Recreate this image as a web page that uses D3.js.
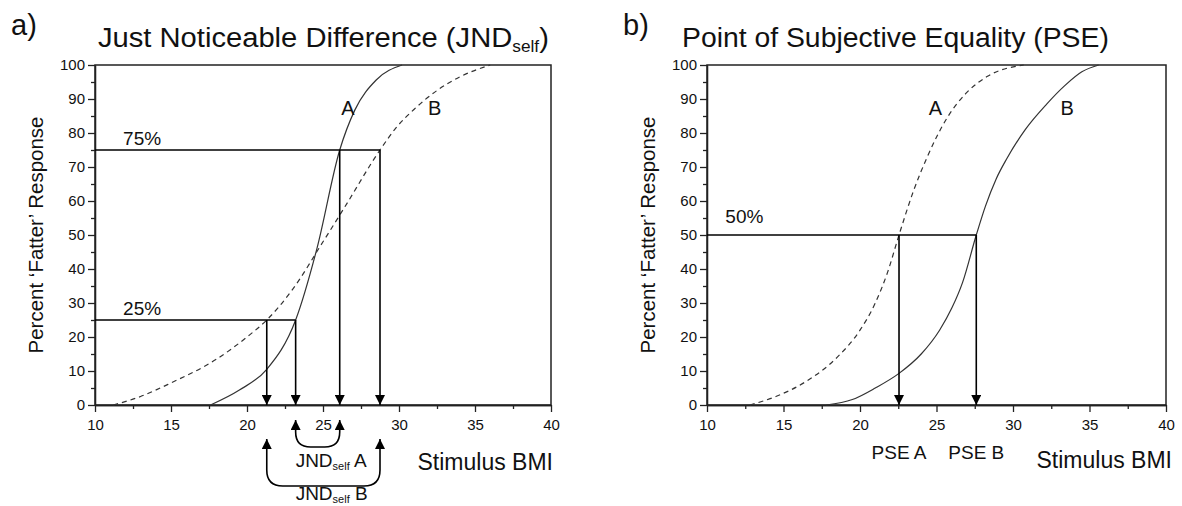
<!DOCTYPE html>
<html>
<head>
<meta charset="utf-8">
<script src="https://cdn.jsdelivr.net/npm/d3@7"></script>
<style>
body{margin:0;background:#fff;}
text{font-family:"Liberation Sans",Arial,sans-serif;fill:#111;}
</style>
</head>
<body>
<script>
//psychometric curves, [stimulus BMI, percent 'fatter']
var jndCurveA = [[17.6,0],[19.5,4.4],[21.3,10.5],[23.2,25],[24.6,46],[26.1,75],[27.1,86.8],[28.5,95.6],[30.2,100]];
var jndCurveB = [[11.2,0],[13,2.5],[15,6.5],[18,13.5],[20,20],[21.3,25],[23,34],[25,48],[26.4,58],[28.75,75],[29.8,81.5],[31,87],[32.5,92.5],[34,96.5],[36,100]];
var pseCurveA = [[12.8,0],[14.5,2.5],[16.5,7],[18.5,14],[20,22],[21,30],[21.8,39],[22.55,50],[23.5,63],[24.4,73],[25.7,84.5],[27,92],[28.3,96.6],[30.7,100]];
var pseCurveB = [[17.8,0],[19.5,1.6],[21,5],[22.55,9.3],[24,15],[25.2,22],[26,28.5],[26.7,36],[27.6,50],[28.2,58.5],[28.9,66.5],[29.6,72.5],[30.8,81],[32.2,88.5],[33.4,94],[34.5,98],[35.6,100]];

//threshold levels and where each curve crosses them
var jndLevels = [25, 75];
var jndPointsA = [23.2, 26.1];
var jndPointsB = [21.3, 28.75];
var pseLevel = 50;
var psePoints = [22.55, 27.6];

//axis ticks
var xTicks = [10, 15, 20, 25, 30, 35, 40];
var xMinor = [12.5, 17.5, 22.5, 27.5, 32.5, 37.5];
var yTicks = [0, 10, 20, 30, 40, 50, 60, 70, 80, 90, 100];
var yMinor = [5, 15, 25, 35, 45, 55, 65, 75, 85, 95];

window.onload = drawFigure();

function drawFigure(){
    var width = 1182,
        height = 506;

    var svg = d3.select("body")
        .append("svg")
        .attr("width", width)
        .attr("height", height);

    //arrow head used on every annotation arrow
    svg.append("defs").append("marker")
        .attr("id", "head")
        .attr("viewBox", "0 0 10 10")
        .attr("refX", 10)
        .attr("refY", 5)
        .attr("markerWidth", 10)
        .attr("markerHeight", 10)
        .attr("markerUnits", "userSpaceOnUse")
        .attr("orient", "auto-start-reverse")
        .append("path")
        .attr("d", "M0,0 L10,5 L0,10 z")
        .attr("fill", "#000");

    //panel a: A solid, B dashed
    var a = drawPanel(svg, 95, 551, "a)", jndCurveA, jndCurveB);
    a.g.append("text")
        .attr("transform", "translate(98,47) scale(1.08,1)")
        .attr("font-size", 27)
        .call(function(t){
            t.append("tspan").text("Just Noticeable Difference (JND");
            t.append("tspan").attr("font-size", 16).attr("dy", 5).text("self");
            t.append("tspan").attr("dy", -5).text(")");
        });

    //horizontal lines at 25% and 75%
    var levelEnds = [jndPointsA[0], jndPointsB[1]];
    jndLevels.forEach(function(lv, i){
        a.g.append("line")
            .attr("x1", a.x(10)).attr("x2", a.x(levelEnds[i]))
            .attr("y1", a.y(lv)).attr("y2", a.y(lv))
            .attr("stroke", "#000").attr("stroke-width", 1.6);
        a.g.append("text")
            .attr("x", a.x(11.85)).attr("y", a.y(lv) - 5)
            .attr("font-size", 19)
            .text(lv + "%");
    });

    //down arrows to the BMI axis
    var drops = [[jndPointsB[0], 25], [jndPointsA[0], 25], [jndPointsA[1], 75], [jndPointsB[1], 75]];
    drops.forEach(function(d){
        a.g.append("line")
            .attr("x1", a.x(d[0])).attr("x2", a.x(d[0]))
            .attr("y1", a.y(d[1])).attr("y2", a.y(0))
            .attr("stroke", "#000").attr("stroke-width", 1.6)
            .attr("marker-end", "url(#head)");
    });

    //curve labels
    a.g.append("text").attr("x", a.x(26.2)).attr("y", a.y(85.3)).attr("font-size", 20).text("A");
    a.g.append("text").attr("x", a.x(31.9)).attr("y", a.y(85.3)).attr("font-size", 20).text("B");

    //JND brackets under the axis
    bracket(a.g, a.x(jndPointsA[0]), a.x(jndPointsA[1]), 420, 447, 15);
    bracket(a.g, a.x(jndPointsB[0]), a.x(jndPointsB[1]), 439, 486, 16);
    jndLabel(a.g, a.x(jndPointsA[0]), 467, "A");
    jndLabel(a.g, a.x(jndPointsA[0]), 500, "B");

    a.g.append("text")
        .attr("x", a.x(40) + 2).attr("y", 470)
        .attr("text-anchor", "end")
        .attr("font-size", 23)
        .text("Stimulus BMI");

    //panel b: A dashed, B solid
    var b = drawPanel(svg, 707, 1166, "b)", pseCurveB, pseCurveA);
    b.g.append("text")
        .attr("transform", "translate(682,47) scale(1.05,1)")
        .attr("font-size", 27)
        .text("Point of Subjective Equality (PSE)");

    b.g.append("line")
        .attr("x1", b.x(10)).attr("x2", b.x(psePoints[1]))
        .attr("y1", b.y(pseLevel)).attr("y2", b.y(pseLevel))
        .attr("stroke", "#000").attr("stroke-width", 1.6);
    b.g.append("text")
        .attr("x", b.x(11.2)).attr("y", b.y(pseLevel) - 12)
        .attr("font-size", 19)
        .text(pseLevel + "%");

    var pseNames = ["PSE A", "PSE B"];
    psePoints.forEach(function(p, i){
        b.g.append("line")
            .attr("x1", b.x(p)).attr("x2", b.x(p))
            .attr("y1", b.y(pseLevel)).attr("y2", b.y(0))
            .attr("stroke", "#000").attr("stroke-width", 1.6)
            .attr("marker-end", "url(#head)");
        b.g.append("text")
            .attr("x", b.x(p)).attr("y", 459)
            .attr("text-anchor", "middle")
            .attr("font-size", 19)
            .text(pseNames[i]);
    });

    b.g.append("text").attr("x", b.x(24.5)).attr("y", b.y(85.3)).attr("font-size", 20).text("A");
    b.g.append("text").attr("x", b.x(33.1)).attr("y", b.y(85.3)).attr("font-size", 20).text("B");

    b.g.append("text")
        .attr("x", b.x(40) + 6).attr("y", 468)
        .attr("text-anchor", "end")
        .attr("font-size", 23)
        .text("Stimulus BMI");
};

//one panel: frame, axes and both curves
function drawPanel(svg, left, right, tag, solidCurve, dashedCurve){
    var g = svg.append("g");

    var x = d3.scaleLinear().domain([10, 40]).range([left, right]);
    var y = d3.scaleLinear().domain([0, 100]).range([405, 65]);

    //minor ticks
    g.append("g")
        .attr("transform", "translate(0,405)")
        .call(d3.axisBottom(x).tickValues(xMinor).tickSize(4).tickSizeOuter(0).tickFormat(""));
    g.append("g")
        .attr("transform", "translate(" + left + ",0)")
        .call(d3.axisLeft(y).tickValues(yMinor).tickSize(4).tickSizeOuter(0).tickFormat(""));

    //major ticks
    g.append("g")
        .attr("class", "xaxis")
        .attr("transform", "translate(0,405)")
        .call(d3.axisBottom(x).tickValues(xTicks).tickSize(7).tickPadding(7).tickSizeOuter(0));
    g.append("g")
        .attr("class", "yaxis")
        .attr("transform", "translate(" + left + ",0)")
        .call(d3.axisLeft(y).tickValues(yTicks).tickSize(7).tickPadding(3).tickSizeOuter(0));

    g.selectAll(".tick text").attr("font-size", 15).attr("font-family", "Liberation Sans, Arial, sans-serif").attr("fill", "#111");
    g.selectAll(".tick line, .domain").attr("stroke", "#222").attr("stroke-width", 1.3);

    //frame
    g.append("rect")
        .attr("x", left).attr("y", 65)
        .attr("width", right - left).attr("height", 340)
        .attr("fill", "none")
        .attr("stroke", "#222").attr("stroke-width", 1.5);

    var line = d3.line()
        .x(function(d){ return x(d[0]); })
        .y(function(d){ return y(d[1]); })
        .curve(d3.curveMonotoneX);

    g.append("path")
        .datum(dashedCurve)
        .attr("d", line)
        .attr("fill", "none")
        .attr("stroke", "#333").attr("stroke-width", 1.2)
        .attr("stroke-dasharray", "5,4");
    g.append("path")
        .datum(solidCurve)
        .attr("d", line)
        .attr("fill", "none")
        .attr("stroke", "#333").attr("stroke-width", 1.2);

    //axis title and panel tag
    g.append("text")
        .attr("transform", "translate(" + (left - 52) + ",235) rotate(-90)")
        .attr("text-anchor", "middle")
        .attr("font-size", 20.5)
        .text("Percent \u2018Fatter\u2019 Response");
    g.append("text")
        .attr("x", left - 84).attr("y", 35)
        .attr("font-size", 29)
        .text(tag);

    return {g: g, x: x, y: y};
};

//U shaped double arrow between two BMI values
function bracket(g, x1, x2, tipY, baseY, r){
    var p = d3.path();
    p.moveTo(x1, tipY);
    p.lineTo(x1, baseY - r);
    p.quadraticCurveTo(x1, baseY, x1 + r, baseY);
    p.lineTo(x2 - r, baseY);
    p.quadraticCurveTo(x2, baseY, x2, baseY - r);
    p.lineTo(x2, tipY);
    g.append("path")
        .attr("d", p.toString())
        .attr("fill", "none")
        .attr("stroke", "#000").attr("stroke-width", 1.6)
        .attr("marker-start", "url(#head)")
        .attr("marker-end", "url(#head)");
};

function jndLabel(g, xPos, yPos, name){
    var t = g.append("text").attr("x", xPos).attr("y", yPos).attr("font-size", 19);
    t.append("tspan").text("JND");
    t.append("tspan").attr("font-size", 11).attr("dy", 3).text("self");
    t.append("tspan").attr("dy", -3).text(" " + name);
};
</script>
</body>
</html>
